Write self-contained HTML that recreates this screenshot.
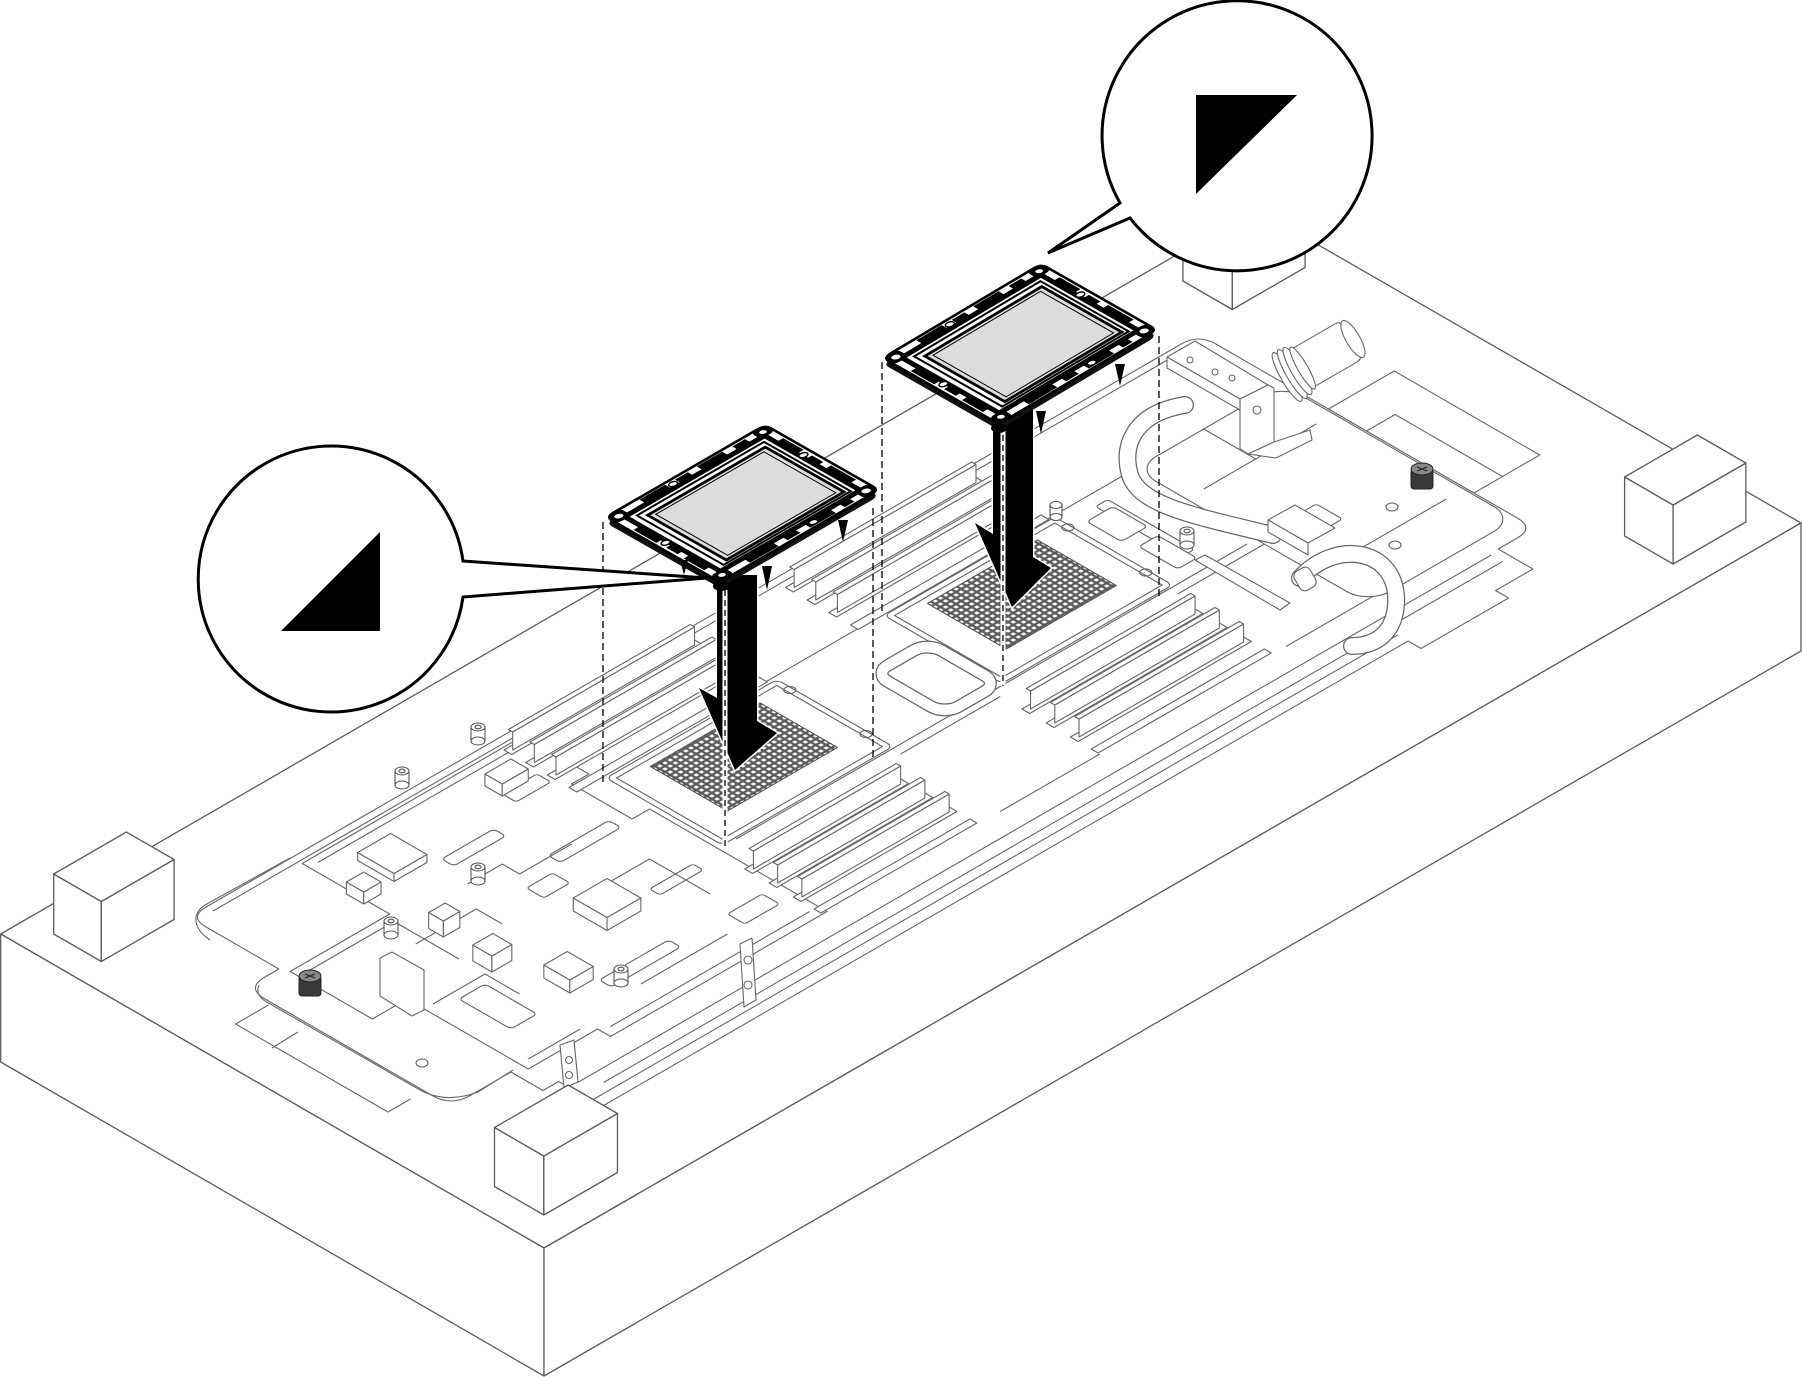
<!DOCTYPE html>
<html><head><meta charset="utf-8"><style>
html,body{margin:0;padding:0;background:#fff;}
svg{display:block}
.iso *{vector-effect:non-scaling-stroke}
.nss{vector-effect:non-scaling-stroke}
</style></head><body>
<svg width="1802" height="1377" viewBox="0 0 1802 1377" xmlns="http://www.w3.org/2000/svg">
<defs>
<pattern id="grid" width="6" height="6" patternUnits="userSpaceOnUse"><rect width="6" height="6" fill="#5a5a5a"/><rect x="1.3" y="1.3" width="3.4" height="3.4" fill="#fff"/></pattern>
<path id="carShape" d="M0,5 Q0,0 5,0 L95,0 Q100,0 100,5 L100,95 Q100,100 95,100 L5,100 Q0,100 0,95 Z"/>
<g id="car">
<path class="nss" d="M0,5 Q0,0 5,0 L95,0 Q100,0 100,5 L100,95 Q100,100 95,100 L5,100 Q0,100 0,95 Z" fill="#fff" stroke="#000" stroke-width="2.6"/>
<rect class="nss" x="6" y="8" width="88" height="84" fill="none" stroke="#000" stroke-width="5"/>
<rect class="nss" x="10.5" y="12.5" width="80" height="76" fill="none" stroke="#000" stroke-width="2"/>
<rect class="nss" x="14" y="17" width="74" height="69" fill="#dcdcdc" stroke="#000" stroke-width="2.8"/>
<rect class="nss" x="17" y="20" width="68" height="63" fill="none" stroke="#000" stroke-width="1"/>
<g fill="#000">
<rect x="20" y="1.5" width="16" height="5.5"/><rect x="42" y="2" width="8" height="4"/><rect x="56" y="1.5" width="16" height="5.5"/><rect x="78" y="2" width="8" height="4"/>
<rect x="20" y="93" width="18" height="5.5"/><rect x="44" y="94" width="8" height="4"/><rect x="58" y="93" width="16" height="5.5"/><rect x="80" y="94" width="6" height="4"/>
<rect x="1.5" y="22" width="5" height="20"/><rect x="2" y="50" width="4" height="10"/><rect x="1.5" y="66" width="5" height="18"/>
<rect x="93.5" y="18" width="5" height="18"/><rect x="94" y="44" width="4" height="10"/><rect x="93.5" y="60" width="5" height="22"/>
<rect x="0" y="0" width="9" height="10" rx="3"/><rect x="91" y="90" width="9" height="10" rx="3"/>
<rect x="91" y="0" width="9" height="9" rx="3"/><rect x="0" y="91" width="9" height="9" rx="3"/>
</g>
<g fill="#fff" stroke="#000" stroke-width="1.4">
<ellipse class="nss" cx="4.5" cy="5" rx="2.6" ry="3"/><ellipse class="nss" cx="95.5" cy="95" rx="2.6" ry="3"/>
<ellipse class="nss" cx="95.5" cy="4.5" rx="2.2" ry="2.6"/><ellipse class="nss" cx="4.5" cy="95.5" rx="2.2" ry="2.6"/>
<ellipse class="nss" cx="39" cy="4.5" rx="2.3" ry="2.3"/><ellipse class="nss" cx="62" cy="95.5" rx="2.3" ry="2.3"/>
<ellipse class="nss" cx="4.5" cy="46" rx="2.3" ry="2.3"/><ellipse class="nss" cx="95.5" cy="40" rx="2.3" ry="2.3"/>
</g>
</g>
</defs>

<!-- BASE BOX -->
<g stroke="#5c5c5c" stroke-width="1.3" fill="#fff" stroke-linejoin="round">
<polygon points="0.7,934 1256,209 1801,523 544,1248"/>
<polygon points="0.7,934 544,1248 544,1376 0.7,1062"/>
<polygon points="544,1248 1801,523 1801,651 544,1376"/>
</g>

<!-- TRAY (isometric space) -->
<g class="iso" transform="matrix(0.866,-0.5,0.866,0.5,0,934)" fill="none" stroke="#666" stroke-width="1.1" stroke-linejoin="round">
<path d="M84,226 L46,226 L46,402 L72,402 M43,271 L74,270"/>
<path fill="#fff" d="M126,112 Q126,92 146,92 L1272,92 Q1292,92 1292,112 L1292,460 Q1292,480 1272,480 L1250,480 L1250,520 L1207,520 L1207,535 L1106,535 L1106,520 L175,520 L175,470 L157,470 L157,433 L110,433 Q88,433 88,411 L88,218 Q88,196 110,196 L126,196 Z"/>
<path d="M146,100 L1265,100 M185,482 L1240,482 M200,497 L1100,497 M175,508 L1106,508 M1120,495 L1240,495 M520,330 L1110,330 M520,190 L1120,190"/>
<path fill="#fff" d="M1292,242 L1368,242 L1368,410 L1292,410 Z M1292,286 L1325,286 L1325,410"/>
<path fill="#fff" d="M245,104 L500,104 L500,180 L480,180 L480,250 L500,250 L500,455 L250,455 L250,440 L170,440 L170,300 L130,300 L130,205 L245,205 Z"/>
<path d="M255,112 L490,112 M260,445 L490,445 M180,430 L240,430 M140,215 L240,215 L240,290"/>
<rect x="330" y="180" width="60" height="14" rx="4"/>
<rect x="395" y="238" width="70" height="14" rx="4"/>
<rect x="300" y="392" width="80" height="14" rx="4"/>
<rect x="420" y="330" width="50" height="12" rx="3"/>
<rect x="440" y="400" width="40" height="20" rx="3"/>
<rect x="350" y="258" width="30" height="20" rx="3"/>
<rect x="430" y="150" width="40" height="16" rx="3"/>
<rect x="200" y="330" width="30" height="60" rx="4"/>
<path d="M320,220 L360,220 L360,240 L420,240 M230,250 L300,250 L300,280 M390,300 L450,300 L450,370 M320,420 L420,420 M180,320 L240,320 L240,360"/>
<g fill="#fff">
<polygon points="367,295 367,334 354,347 354,308"/><polygon points="367,334 406,334 393,347 354,347"/><rect x="367" y="295" width="39" height="39"/>
<polygon points="283,345 283,375 270,388 270,358"/><polygon points="283,375 310,375 297,388 270,388"/><rect x="283" y="345" width="27" height="30"/>
<polygon points="262,284 262,306 246,322 246,300"/><polygon points="262,306 285,306 269,322 246,322"/><rect x="262" y="284" width="23" height="22"/>
<polygon points="269,226 269,243 253,259 253,242"/><polygon points="269,243 288,243 272,259 253,259"/><rect x="269" y="226" width="19" height="17"/>
<polygon points="288,125 288,167 280,175 280,133"/><polygon points="288,167 326,167 318,175 280,175"/><rect x="288" y="125" width="38" height="42"/>
<polygon points="252,148 252,168 240,180 240,160"/><polygon points="252,168 272,168 260,180 240,180"/><rect x="252" y="148" width="20" height="20"/>
<polygon points="440,120 440,140 428,152 428,132"/><polygon points="440,140 470,140 458,152 428,152"/><rect x="440" y="120" width="30" height="20"/>
</g>
<rect x="512" y="200" width="185" height="122" fill="#fff"/>
<rect x="506" y="194" width="197" height="134" rx="6"/>
<rect x="543" y="208" width="127" height="89" fill="url(#grid)" stroke="#555"/>
<rect x="835" y="198" width="185" height="124" fill="#fff"/>
<rect x="829" y="192" width="197" height="136" rx="6"/>
<rect x="866" y="205" width="127" height="91" fill="url(#grid)" stroke="#555"/>
<circle cx="700" cy="212" r="5"/><circle cx="700" cy="300" r="5"/><circle cx="1023" cy="210" r="5"/><circle cx="1023" cy="300" r="5"/>
<rect x="765" y="244" width="62" height="82" rx="16" stroke="#666" stroke-width="13"/>
<rect x="765" y="244" width="62" height="82" rx="16" stroke="#fff" stroke-width="10.5"/>
<g fill="#fff">
<rect x="475" y="107" width="220" height="9"/><polygon points="480,112 690,112 708,94 498,94"/><rect x="498" y="89" width="210" height="5"/>
<rect x="475" y="132" width="220" height="9"/><polygon points="480,137 690,137 708,119 498,119"/><rect x="498" y="114" width="210" height="5"/>
<rect x="475" y="157" width="220" height="9"/><polygon points="480,162 690,162 708,144 498,144"/><rect x="498" y="139" width="210" height="5"/>
<rect x="475" y="182" width="220" height="9"/>
<rect x="800" y="107" width="220" height="9"/><polygon points="805,112 1015,112 1033,94 823,94"/><rect x="823" y="89" width="210" height="5"/>
<rect x="800" y="132" width="220" height="9"/><polygon points="805,137 1015,137 1033,119 823,119"/><rect x="823" y="114" width="210" height="5"/>
<rect x="800" y="157" width="220" height="9"/><polygon points="805,162 1015,162 1033,144 823,144"/><rect x="823" y="139" width="210" height="5"/>
<rect x="800" y="182" width="220" height="9"/>
<rect x="495" y="365" width="180" height="9"/><polygon points="500,370 670,370 688,352 518,352"/><rect x="518" y="347" width="170" height="5"/>
<rect x="495" y="393" width="180" height="9"/><polygon points="500,398 670,398 688,380 518,380"/><rect x="518" y="375" width="170" height="5"/>
<rect x="495" y="421" width="180" height="9"/><polygon points="500,426 670,426 688,408 518,408"/><rect x="518" y="403" width="170" height="5"/>
<rect x="495" y="445" width="180" height="8"/>
<rect x="815" y="365" width="200" height="9"/><polygon points="820,370 1010,370 1028,352 838,352"/><rect x="838" y="347" width="190" height="5"/>
<rect x="815" y="393" width="200" height="9"/><polygon points="820,398 1010,398 1028,380 838,380"/><rect x="838" y="375" width="190" height="5"/>
<rect x="815" y="421" width="200" height="9"/><polygon points="820,426 1010,426 1028,408 838,408"/><rect x="838" y="403" width="190" height="5"/>
<rect x="815" y="445" width="200" height="8"/>
</g>
<path d="M700,340 L815,340 M700,455 L815,455 M1020,340 L1120,340 M1030,455 L1250,455"/>
<rect x="1120" y="190" width="170" height="270" rx="25" fill="#fff"/>
<path d="M1140,250 L1270,250 M1140,400 L1270,400 M1200,190 L1200,250"/>
<rect x="1060" y="205" width="14" height="100" rx="3"/>
<rect x="1150" y="330" width="40" height="30" rx="3"/>
<rect x="1040" y="215" width="30" height="40" rx="4" fill="#fff"/>
<rect x="1045" y="270" width="22" height="45" rx="4" fill="#fff"/>
</g>

<!-- screen-space tray extras -->
<g fill="none" stroke="#666" stroke-width="1.1" stroke-linejoin="round">
<path d="M1185,405 C1140,412 1120,440 1130,475 C1140,505 1190,515 1273,535" stroke="#666" stroke-width="18" stroke-linecap="round"/>
<path d="M1185,405 C1140,412 1120,440 1130,475 C1140,505 1190,515 1273,535" stroke="#fff" stroke-width="15.5" stroke-linecap="round"/>
<path d="M1300,578 C1335,540 1392,548 1396,595 C1398,630 1378,646 1352,646" stroke="#666" stroke-width="18" stroke-linecap="round"/>
<path d="M1300,578 C1335,540 1392,548 1396,595 C1398,630 1378,646 1352,646" stroke="#fff" stroke-width="15.5" stroke-linecap="round"/>
<g transform="rotate(-30 1320 358)"><rect x="1290" y="336" width="68" height="44" rx="8" fill="#fff"/><ellipse cx="1358" cy="358" rx="7" ry="21" fill="#fff"/>
<ellipse cx="1282" cy="358" rx="6" ry="28" fill="#fff"/><ellipse cx="1288" cy="358" rx="6" ry="28" fill="#fff"/><ellipse cx="1294" cy="358" rx="6" ry="27" fill="#fff"/><ellipse cx="1300" cy="358" rx="5" ry="24" fill="#fff"/></g>
<polygon fill="#fff" points="1167,357 1195,341 1268,385 1240,399"/>
<polygon fill="#fff" points="1240,399 1268,385 1274,388 1274,442 1248,454 1240,449"/>
<polygon fill="#fff" points="1167,357 1240,399 1240,410 1167,368"/>
<polygon fill="#fff" points="1248,454 1274,442 1310,430 1312,440 1276,458"/>
<circle cx="1190" cy="360" r="3"/><circle cx="1215" cy="372" r="3"/><circle cx="1232" cy="378" r="3"/><circle cx="1257" cy="410" r="4"/>
<polygon fill="#fff" points="1268,520 1295,505 1335,528 1308,543"/>
<polygon fill="#fff" points="1268,520 1308,543 1308,555 1268,532"/>
<rect x="1296" y="568" width="18" height="22" rx="6" fill="#fff" transform="rotate(-30 1305 579)"/>
<polygon fill="#fff" points="1195,560 1205,555 1290,603 1280,610"/>
<polygon fill="#fff" points="380,958 392,952 424,970 424,1010 412,1016 380,996"/>
<polygon fill="#fff" points="740,944 752,938 756,1000 744,1007"/>
<polygon fill="#fff" points="560,1045 574,1040 578,1082 564,1088"/>
<circle cx="748" cy="960" r="4"/><circle cx="748" cy="985" r="4"/><circle cx="569" cy="1060" r="3.5"/><circle cx="569" cy="1075" r="3.5"/>
<path d="M259,985 C255,995 262,1000 272,1005 L420,1090 Q446,1104 478,1092 L513,1070"/>
<path d="M210,940 C195,930 190,915 205,905 L290,858"/>
</g>

<g stroke="#555" stroke-width="1.1" fill="#fff">
<g><rect x="471" y="727" width="14" height="14"/><ellipse cx="478" cy="741" rx="7" ry="4"/><ellipse cx="478" cy="727" rx="7" ry="4"/><ellipse cx="478" cy="727" rx="3" ry="1.8"/></g>
<g><rect x="395" y="771" width="14" height="14"/><ellipse cx="402" cy="785" rx="7" ry="4"/><ellipse cx="402" cy="771" rx="7" ry="4"/><ellipse cx="402" cy="771" rx="3" ry="1.8"/></g>
<g><rect x="471" y="867" width="14" height="14"/><ellipse cx="478" cy="881" rx="7" ry="4"/><ellipse cx="478" cy="867" rx="7" ry="4"/><ellipse cx="478" cy="867" rx="3" ry="1.8"/></g>
<g><rect x="384" y="921" width="14" height="14"/><ellipse cx="391" cy="935" rx="7" ry="4"/><ellipse cx="391" cy="921" rx="7" ry="4"/><ellipse cx="391" cy="921" rx="3" ry="1.8"/></g>
<g><rect x="614" y="969" width="14" height="14"/><ellipse cx="621" cy="983" rx="7" ry="4"/><ellipse cx="621" cy="969" rx="7" ry="4"/><ellipse cx="621" cy="969" rx="3" ry="1.8"/></g>
<g><rect x="1180" y="531" width="14" height="14"/><ellipse cx="1187" cy="545" rx="7" ry="4"/><ellipse cx="1187" cy="531" rx="7" ry="4"/><ellipse cx="1187" cy="531" rx="3" ry="1.8"/></g>
<g><rect x="1050" y="505" width="12" height="12"/><ellipse cx="1056" cy="517" rx="6" ry="3.5"/><ellipse cx="1056" cy="505" rx="6" ry="3.5"/></g>
</g>
<g stroke="#222" stroke-width="1">
<rect x="299" y="976" width="22" height="20" rx="3" fill="#3a3a3a"/><ellipse cx="310" cy="976" rx="11" ry="6" fill="#888"/><path d="M305,974 L315,978 M315,974 L305,978" stroke="#222"/>
<rect x="1411" y="469" width="22" height="20" rx="3" fill="#3a3a3a"/><ellipse cx="1422" cy="469" rx="11" ry="6" fill="#888"/><path d="M1417,467 L1427,471 M1427,467 L1417,471"/>
</g>
<g stroke="#555" fill="#fff" stroke-width="1"><ellipse cx="422" cy="1063" rx="6" ry="4"/><ellipse cx="1392" cy="507" rx="6" ry="4"/><ellipse cx="1395" cy="545" rx="6" ry="4"/></g>

<g class="iso" transform="matrix(0.866,-0.5,0.866,0.5,0,934)" fill="#fff" stroke="#5c5c5c" stroke-width="1.3" stroke-linejoin="round">
<polygon points="31,31 31,86 91,26 91,-29"/><polygon points="31,86 115,86 175,26 91,26"/><polygon points="91,-29 175,-29 175,26 91,26"/>
<polygon points="33,538 33,595 92,536 92,479"/><polygon points="33,595 118,595 177,536 92,536"/><polygon points="92,479 177,479 177,536 92,536"/>
<polygon points="1336,540 1336,596 1395,537 1395,481"/><polygon points="1336,596 1420,596 1479,537 1395,537"/><polygon points="1395,481 1479,481 1479,537 1395,537"/>
<polygon points="1336,30 1336,87 1395,28 1395,-29"/><polygon points="1336,87 1420,87 1479,28 1395,28"/><polygon points="1395,-29 1479,-29 1479,28 1395,28"/>
</g>

<g stroke="#000" stroke-width="1.3" stroke-dasharray="7 4" fill="none">
<path d="M603,522 V783 M873,508 V761 M882,362 V612 M1159,336 V600"/>
</g>

<g fill="#000" stroke="#fff" stroke-width="3" paint-order="stroke" stroke-linejoin="miter">
<polygon points="717,575 757,575 757,721 777,733 735,770 699,688 717,698"/>
<polygon points="993,410 1033,410 1033,557 1051,568 1012,607 975,523 993,534"/>
</g>
<g fill="none">
<path d="M725,590 V846" stroke="#fff" stroke-width="5"/>
<path d="M725,590 V846" stroke="#000" stroke-width="1.3" stroke-dasharray="6 4"/>
<path d="M1003,425 V686" stroke="#fff" stroke-width="5"/>
<path d="M1003,425 V686" stroke="#000" stroke-width="1.3" stroke-dasharray="6 4"/>
</g>

<use href="#carShape" transform="translate(0,6) matrix(1.59,-0.92,1.14,0.65,606,517)" fill="#111"/>
<use href="#car" transform="matrix(1.59,-0.92,1.14,0.65,606,517)"/>
<use href="#carShape" transform="translate(0,6) matrix(1.58,-0.94,1.16,0.66,883,358)" fill="#111"/>
<use href="#car" transform="matrix(1.58,-0.94,1.16,0.66,883,358)"/>
<g fill="#000">
<path d="M838,520 L848,520 L843,542 Z"/><path d="M762,566 L772,566 L767,590 Z"/><path d="M680,560 L688,560 L684,575 Z"/>
<path d="M1115,364 L1125,364 L1120,386 Z"/><path d="M1036,411 L1046,411 L1041,434 Z"/>
<ellipse cx="721" cy="586" rx="8" ry="5"/><ellipse cx="999" cy="428" rx="8" ry="5"/>
</g>

<g fill="#fff" stroke="#000" stroke-width="3" stroke-linejoin="miter">
<path d="M463,561 L707,578 L463,597 A133,133 0 1,1 463,561 Z"/>
<path d="M1120,203 L1048,253 L1130,218 A135,135 0 1,0 1120,203 Z"/>
</g>
<polygon points="281,631 380,532 380,631" fill="#000"/>
<polygon points="1196,95 1297,95 1196,194" fill="#000"/>
</svg>
</body></html>
